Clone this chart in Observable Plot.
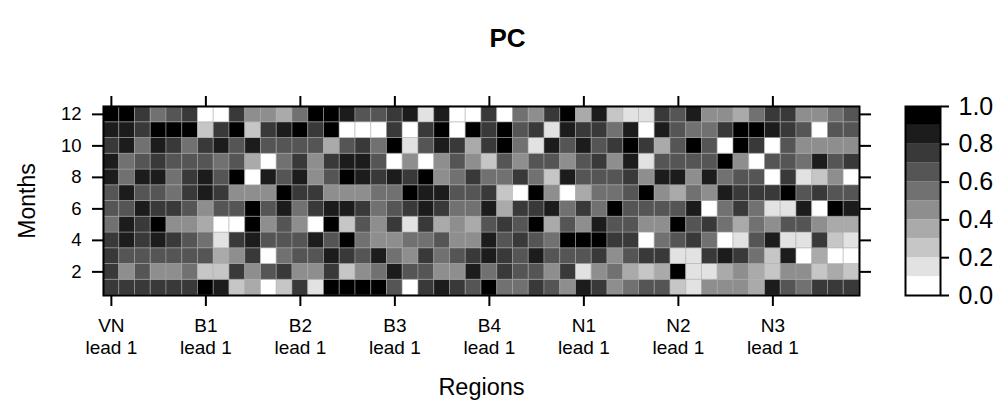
<!DOCTYPE html>
<html>
<head>
<meta charset="utf-8">
<script src="https://cdn.jsdelivr.net/npm/d3@7"></script>
<script src="https://cdn.jsdelivr.net/npm/@observablehq/plot@0.6"></script>
<style>
html,body{margin:0;padding:0;background:#fff;width:997px;height:405px;overflow:hidden}
#wrap{position:relative;width:997px;height:405px}
#wrap svg{position:absolute;overflow:visible;background:transparent}
</style>
</head>
<body>
<div id="wrap"></div>
<script>
// Each digit is the colour bin of a cell (0 = 0.0-0.1 ... 9 = 0.9-1.0)
const m12 = [9,9,7,5,6,7,0,0,7,4,4,3,5,9,9,8,6,6,7,8,1,8,0,0,7,0,5,4,7,9,3,8,2,1,1,7,6,8,4,4,3,5,7,7,4,4,5,6];
const m11 = [8,8,7,9,9,9,2,7,9,2,7,8,9,7,9,0,0,0,7,0,7,9,0,9,7,9,6,7,1,8,7,7,5,8,0,8,6,5,5,7,9,9,8,7,6,0,6,6];
const m10 = [7,8,5,8,7,5,7,8,6,8,6,6,6,6,3,6,7,5,9,1,6,8,7,3,7,9,5,1,8,6,8,6,7,9,7,3,6,9,6,0,9,7,0,6,4,4,4,4];
const m9  = [8,5,6,7,6,6,6,5,6,3,0,5,7,4,7,8,8,6,0,4,0,4,6,4,2,6,4,6,6,4,6,7,4,8,1,6,6,6,6,9,4,0,6,6,5,8,6,7];
const m8  = [8,5,8,8,5,7,8,6,9,0,8,6,8,4,6,9,8,7,8,7,9,4,5,7,5,5,7,5,2,8,6,6,6,7,4,8,8,4,8,5,6,6,0,7,1,2,4,0];
const m7  = [6,8,6,6,5,7,8,7,4,4,4,9,7,7,4,4,4,5,5,9,8,8,6,6,7,2,0,9,4,0,3,5,5,6,9,4,3,5,4,8,7,7,7,9,6,7,6,6];
const m6  = [6,6,8,7,7,6,4,6,6,9,6,8,5,7,8,8,7,5,6,7,8,7,5,5,8,3,7,7,8,5,7,5,9,6,6,6,6,8,0,5,7,5,1,1,8,0,9,8];
const m5  = [5,8,7,9,4,4,3,0,0,9,4,6,4,0,9,2,6,4,7,1,7,3,4,3,6,7,6,9,3,6,4,8,6,6,4,4,9,6,7,5,3,5,4,6,6,4,3,3];
const m4  = [7,8,7,8,7,6,5,1,7,8,6,6,6,8,6,9,5,4,4,5,5,6,4,4,8,6,7,6,5,9,9,9,7,7,0,5,6,7,5,0,1,6,8,1,1,7,2,1];
const m3  = [7,6,6,6,6,6,6,3,4,7,0,5,6,6,8,7,6,8,5,4,7,5,6,7,8,7,6,8,6,6,6,7,4,6,7,7,1,1,7,8,7,5,2,8,0,3,0,0];
const m2  = [7,4,6,4,4,5,2,2,7,4,6,7,4,4,7,2,4,5,8,6,6,4,4,8,5,7,6,6,4,7,1,4,5,3,2,3,9,1,1,3,4,3,2,4,4,2,3,2];
const m1  = [7,7,7,7,7,7,9,8,2,3,0,2,7,1,9,9,9,9,6,0,7,8,7,6,9,5,5,7,6,4,8,7,4,5,6,6,2,1,4,4,4,3,8,6,5,7,7,7];
const months = [m1,m2,m3,m4,m5,m6,m7,m8,m9,m10,m11,m12];
const regions = ["VN","B1","B2","B3","B4","N1","N2","N3"];
const leadLabel = "lead 1";
const monthTicks = [2,4,6,8,10,12];
const regionStep = 6;
const binEdges = [0.1,0.2,0.3,0.4,0.5,0.6,0.7,0.8,0.9];
const greys = ["#ffffff","#e2e2e2","#c6c6c6","#aaaaaa","#8e8e8e","#717171","#555555","#393939","#1c1c1c","#000000"];
const barTicks = [0,0.2,0.4,0.6,0.8,1];

const cells = months.flatMap((row,mi)=>row.map((b,c)=>({col:c,month:mi+1,value:(b+0.5)/10})));
const colDomain = d3.range(m1.length);
const regionTicks = regions.map((_,i)=>i*regionStep);
const colorScale = {type:"threshold",domain:binEdges,range:greys};
const font = "'Liberation Sans', Arial, sans-serif";

const main = Plot.plot({
  width:997,height:405,
  marginLeft:103,marginRight:138,marginTop:106,marginBottom:110,
  style:{fontFamily:font,background:"transparent"},
  x:{type:"band",domain:colDomain,padding:0,round:false},
  y:{type:"band",domain:d3.range(12,0,-1),padding:0,round:false},
  color:colorScale,
  marks:[
    Plot.cell(cells,{x:"col",y:"month",fill:"value",stroke:"#aaaaaa",strokeWidth:1,strokeOpacity:0.5}),
    Plot.frame({stroke:"#000",strokeWidth:2}),
    Plot.axisX({anchor:"bottom",ticks:regionTicks,label:null,tickSize:11,strokeWidth:2,tickPadding:9,fontSize:19,lineHeight:1.2,fill:"#000",
      tickFormat:c=>regions[c/regionStep]+"\n"+leadLabel}),
    Plot.axisX({anchor:"top",ticks:regionTicks,label:null,tickSize:11,strokeWidth:2,tickFormat:()=>""}),
    Plot.axisY({anchor:"left",ticks:monthTicks,label:null,tickSize:11,strokeWidth:2,tickPadding:11,fontSize:18.5,fill:"#000"}),
    Plot.axisY({anchor:"right",ticks:monthTicks,label:null,tickSize:11,strokeWidth:2,tickFormat:()=>""}),
    Plot.text(["PC"],{frameAnchor:"top",dx:26,dy:-78,fontSize:26,fontWeight:"bold",fill:"#000"}),
    Plot.text(["Regions"],{frameAnchor:"bottom",dy:99,fontSize:23.5,fill:"#000"}),
    Plot.text(["Months"],{frameAnchor:"left",dx:-76,rotate:-90,textAnchor:"middle",fontSize:23,fill:"#000"})
  ]
});
main.style.left="0px";main.style.top="0px";
document.getElementById("wrap").appendChild(main);

const bins = greys.map((_,i)=>({lo:i/10,hi:(i+1)/10,mid:(i+0.5)/10}));
const bar = Plot.plot({
  width:92,height:229,
  marginLeft:5,marginRight:52,marginTop:20,marginBottom:20,
  style:{fontFamily:font,background:"transparent"},
  y:{domain:[0,1]},
  color:colorScale,
  marks:[
    Plot.rectY(bins,{y1:"lo",y2:"hi",fill:"mid"}),
    Plot.frame({stroke:"#000",strokeWidth:2}),
    Plot.axisY({anchor:"right",ticks:barTicks,label:null,tickSize:8,strokeWidth:2,tickPadding:10,fontSize:25,fill:"#000",tickFormat:d3.format(".1f")})
  ]
});
bar.style.left="900px";bar.style.top="86px";
document.getElementById("wrap").appendChild(bar);
</script>
</body>
</html>
